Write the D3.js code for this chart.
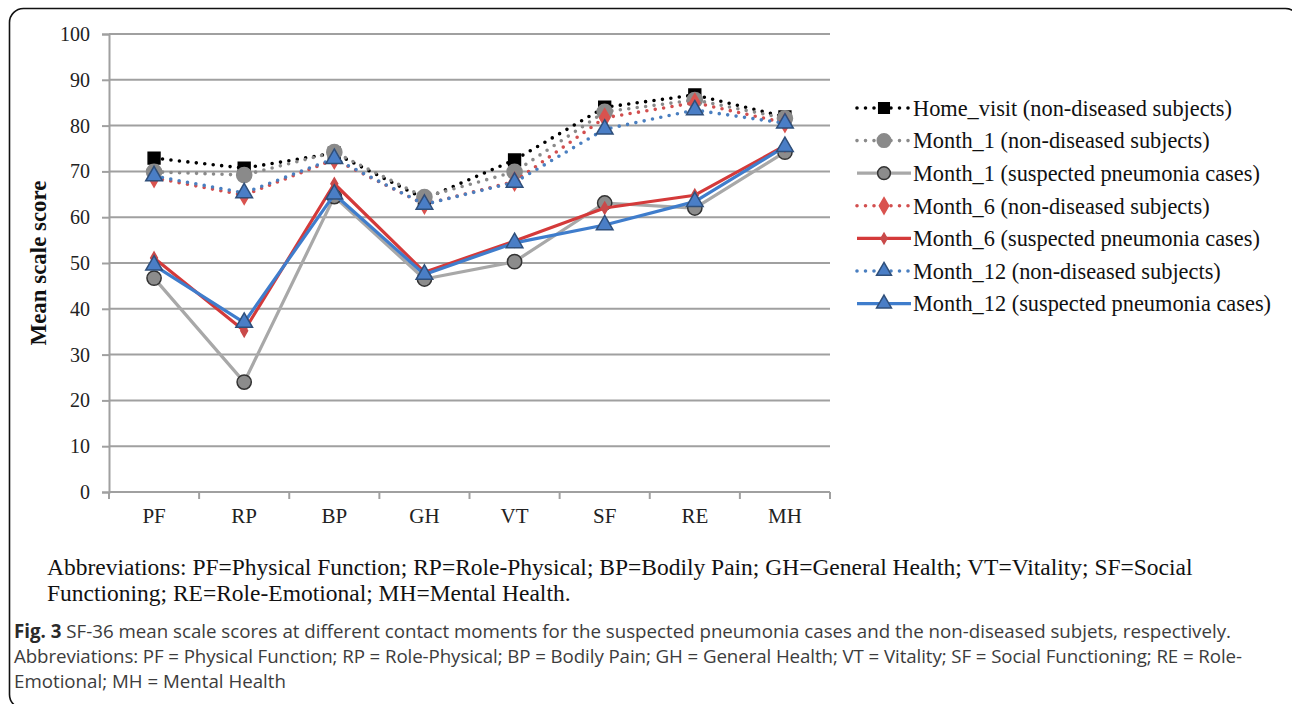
<!DOCTYPE html>
<html>
<head>
<meta charset="utf-8">
<script src="https://cdn.jsdelivr.net/npm/d3@7"></script>
<style>
  body { margin: 0; background: #fff; }
  svg { display: block; }
</style>
</head>
<body>
<div id="chart"></div>
<script>
// data
const categories = ['PF', 'RP', 'BP', 'GH', 'VT', 'SF', 'RE', 'MH'];
const yTicks = [0, 10, 20, 30, 40, 50, 60, 70, 80, 90, 100];

const homeVisitNon = [72.9, 70.7, 74.0, 64.0, 72.5, 84.0, 86.7, 81.9];
const month1Non = [69.9, 69.2, 74.2, 64.4, 69.9, 83.0, 85.6, 81.6];
const month1Case = [46.7, 24.0, 64.5, 46.5, 50.3, 63.1, 62.0, 74.2];
const month6Non = [68.6, 64.8, 72.6, 62.8, 67.8, 81.7, 85.0, 80.6];
const month6Case = [51.1, 35.2, 67.3, 48.0, 54.8, 62.0, 64.8, 75.6];
const month12Non = [69.0, 65.3, 72.8, 62.8, 67.6, 79.2, 83.4, 80.5];
const month12Case = [49.5, 37.0, 65.0, 47.5, 54.4, 58.3, 63.4, 75.4];

const seriesNames = [
  'Home_visit (non-diseased subjects)',
  'Month_1 (non-diseased subjects)',
  'Month_1 (suspected pneumonia cases)',
  'Month_6 (non-diseased subjects)',
  'Month_6 (suspected pneumonia cases)',
  'Month_12 (non-diseased subjects)',
  'Month_12 (suspected pneumonia cases)'
];

const W = 1292, H = 704;
const svg = d3.select('#chart').append('svg')
  .attr('width', W).attr('height', H);

// frame with rounded corners
svg.append('rect')
  .attr('x', 9.5).attr('y', 8.5)
  .attr('width', 1290).attr('height', 700)
  .attr('rx', 14)
  .attr('fill', 'none')
  .attr('stroke', '#111')
  .attr('stroke-width', 1.6);

const plot = { left: 109, right: 830, top: 34, bottom: 492 };

const x = d3.scaleBand().domain(categories).range([plot.left, plot.right]).padding(0);
const y = d3.scaleLinear().domain([0, 100]).range([plot.bottom, plot.top]);
const cx = d => x(d) + x.bandwidth() / 2;

const gridColor = '#a0a0a0';
const serif = "'Liberation Serif', 'Times New Roman', serif";

// scale a text element so it spans the given width
function fitText(sel, width) {
  const node = sel.node();
  const fs = +sel.attr('font-size');
  const len = node.getComputedTextLength();
  sel.attr('font-size', (fs * width / len).toFixed(2));
}

// gridlines
svg.append('g')
  .selectAll('line')
  .data(yTicks.filter(t => t > 0))
  .enter().append('line')
  .attr('x1', plot.left).attr('x2', plot.right)
  .attr('y1', d => y(d)).attr('y2', d => y(d))
  .attr('stroke', gridColor).attr('stroke-width', 2);

// y axis
const yAxis = svg.append('g')
  .attr('transform', 'translate(' + plot.left + ',0)')
  .call(d3.axisLeft(y).tickValues(yTicks).tickSize(7).tickPadding(12));
yAxis.select('.domain').attr('stroke', gridColor).attr('stroke-width', 2);
yAxis.selectAll('.tick line').attr('stroke', gridColor).attr('stroke-width', 2);
yAxis.selectAll('.tick text')
  .attr('font-family', serif).attr('font-size', 20).attr('fill', '#222');

// x axis, ticks between categories
const xAxis = svg.append('g')
  .attr('transform', 'translate(0,' + plot.bottom + ')')
  .call(d3.axisBottom(x).tickSize(0).tickPadding(16));
xAxis.select('.domain').remove();
xAxis.append('line')
  .attr('x1', plot.left).attr('x2', plot.right)
  .attr('stroke', gridColor).attr('stroke-width', 2);
xAxis.selectAll('.sep')
  .data(categories.concat(['end']))
  .enter().append('line')
  .attr('class', 'sep')
  .attr('x1', (d, i) => plot.left + i * x.bandwidth())
  .attr('x2', (d, i) => plot.left + i * x.bandwidth())
  .attr('y1', 0).attr('y2', 7)
  .attr('stroke', gridColor).attr('stroke-width', 2);
xAxis.selectAll('.tick text')
  .attr('font-family', serif).attr('font-size', 21).attr('fill', '#222');

// y axis title
const yTitle = svg.append('text')
  .attr('transform', 'translate(46,' + ((plot.top + plot.bottom) / 2) + ') rotate(-90)')
  .attr('text-anchor', 'middle')
  .attr('font-family', serif)
  .attr('font-weight', 'bold')
  .attr('font-size', 18)
  .attr('fill', '#111')
  .text('Mean scale score');
fitText(yTitle, 165);

// series styles
const series = [
  { name: seriesNames[0], values: homeVisitNon, color: '#000', dotted: true,
    symbol: d3.symbolSquare, size: 140, fill: '#000', stroke: '#000' },
  { name: seriesNames[1], values: month1Non, color: '#8a8a8a', dotted: true,
    symbol: d3.symbolCircle, size: 180, fill: '#8a8a8a', stroke: '#8a8a8a' },
  { name: seriesNames[2], values: month1Case, color: '#a8a8a8', dotted: false,
    symbol: d3.symbolCircle, size: 160, fill: '#8c8c8c', stroke: '#333' },
  { name: seriesNames[3], values: month6Non, color: '#d24f4f', dotted: true,
    symbol: d3.symbolDiamond, size: 95, fill: '#d9534f', stroke: '#d9534f' },
  { name: seriesNames[4], values: month6Case, color: '#d43a3a', dotted: false,
    symbol: d3.symbolDiamond, size: 40, fill: '#c94a4a', stroke: '#c94a4a' },
  { name: seriesNames[5], values: month12Non, color: '#4a7fc0', dotted: true,
    symbol: d3.symbolTriangle, size: 120, fill: '#4a7ec6', stroke: '#2f4f7a' },
  { name: seriesNames[6], values: month12Case, color: '#3f7dcc', dotted: false,
    symbol: d3.symbolTriangle, size: 120, fill: '#4a7ec6', stroke: '#2f4f7a' }
];

const line = d3.line()
  .x((d, i) => cx(categories[i]))
  .y(d => y(d));

// solid lines first, dotted on top
const drawOrder = [2, 4, 6, 0, 1, 3, 5];
drawOrder.forEach(k => {
  const s = series[k];
  const g = svg.append('g');
  g.append('path')
    .datum(s.values)
    .attr('d', line)
    .attr('fill', 'none')
    .attr('stroke', s.color)
    .attr('stroke-width', s.dotted ? 3.6 : 3.2)
    .attr('stroke-linecap', s.dotted ? 'round' : 'butt')
    .attr('stroke-linejoin', 'round')
    .attr('stroke-dasharray', s.dotted ? '0 8.5' : null);
  g.selectAll('path.mark')
    .data(s.values)
    .enter().append('path')
    .attr('class', 'mark')
    .attr('d', d3.symbol().type(s.symbol).size(s.size))
    .attr('transform', (d, i) => 'translate(' + cx(categories[i]) + ',' + y(d) + ')')
    .attr('fill', s.fill)
    .attr('stroke', s.stroke)
    .attr('stroke-width', 1.5);
});

// legend
const legend = svg.append('g');
const legX = 857, legY = 108, legStep = 32.6, legLen = 54;
let legFont = 20;
series.forEach((s, i) => {
  const ly = legY + i * legStep;
  legend.append('line')
    .attr('x1', legX).attr('x2', legX + legLen)
    .attr('y1', ly).attr('y2', ly)
    .attr('stroke', s.color)
    .attr('stroke-width', s.dotted ? 3.6 : 3.2)
    .attr('stroke-linecap', s.dotted ? 'round' : 'butt')
    .attr('stroke-dasharray', s.dotted ? '0 8.5' : null);
  legend.append('path')
    .attr('d', d3.symbol().type(s.symbol).size(s.size * 0.8))
    .attr('transform', 'translate(' + (legX + legLen / 2) + ',' + ly + ')')
    .attr('fill', s.fill)
    .attr('stroke', s.stroke)
    .attr('stroke-width', 1.5);
  const t = legend.append('text')
    .attr('x', legX + legLen + 2)
    .attr('y', ly)
    .attr('dy', '0.35em')
    .attr('font-family', serif)
    .attr('font-size', legFont)
    .attr('fill', '#111')
    .text(s.name);
  if (i === 0) {
    fitText(t, 319);
    legFont = +t.attr('font-size');
  }
});

// serif note under the plot
const note1 = svg.append('text')
  .attr('x', 47).attr('y', 575)
  .attr('font-family', serif).attr('font-size', 21).attr('fill', '#111')
  .text('Abbreviations: PF=Physical Function; RP=Role-Physical; BP=Bodily Pain; GH=General Health; VT=Vitality; SF=Social');
fitText(note1, 1146);
svg.append('text')
  .attr('x', 47).attr('y', 601)
  .attr('font-family', serif).attr('font-size', note1.attr('font-size')).attr('fill', '#111')
  .text('Functioning; RE=Role-Emotional; MH=Mental Health.');

// figure caption
const sans = "'Open Sans', 'Noto Sans', sans-serif";
const cap1 = svg.append('text')
  .attr('x', 14).attr('y', 638)
  .attr('font-family', sans).attr('font-size', 17).attr('fill', '#3c3c3c');
cap1.append('tspan').attr('font-weight', 'bold').attr('fill', '#2a2a2a').text('Fig. 3');
cap1.append('tspan').text(' SF-36 mean scale scores at different contact moments for the suspected pneumonia cases and the non-diseased subjets, respectively.');
fitText(cap1, 1218);
const capSize = cap1.attr('font-size');
svg.append('text')
  .attr('x', 14).attr('y', 663)
  .attr('font-family', sans).attr('font-size', capSize).attr('fill', '#3c3c3c')
  .attr('textLength', 1228).attr('lengthAdjust', 'spacing')
  .text('Abbreviations: PF = Physical Function; RP = Role-Physical; BP = Bodily Pain; GH = General Health; VT = Vitality; SF = Social Functioning; RE = Role-');
svg.append('text')
  .attr('x', 14).attr('y', 688)
  .attr('font-family', sans).attr('font-size', capSize).attr('fill', '#3c3c3c')
  .text('Emotional; MH = Mental Health');
</script>
</body>
</html>
